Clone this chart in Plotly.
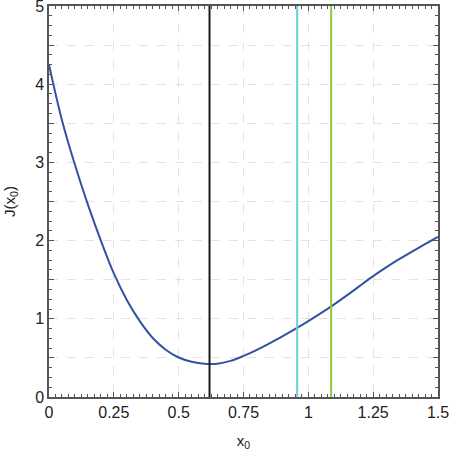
import plotly.graph_objects as go

# J(x0)
x0 = [0.0, 0.05, 0.1, 0.15, 0.2, 0.25, 0.3, 0.35, 0.4, 0.45, 0.5, 0.55, 0.6,
      0.65, 0.7, 0.75, 0.8, 0.85, 0.9, 0.95, 1.0, 1.05, 1.1, 1.15, 1.2, 1.25,
      1.3, 1.35, 1.4, 1.45, 1.5]
J = [4.25, 3.54, 2.97, 2.46, 2.00, 1.58, 1.24, 0.97, 0.755, 0.605, 0.505, 0.45, 0.424,
     0.426, 0.462, 0.525, 0.60, 0.685, 0.775, 0.87, 0.97, 1.075, 1.185, 1.302, 1.425, 1.545,
     1.657, 1.762, 1.86, 1.955, 2.048]

# vertical marker lines
vline_x = [0.619, 0.957, 1.088]
vline_colors = ["#1a1a1a", "#6ccbdc", "#8dc63f"]

xticks = [0, 0.25, 0.5, 0.75, 1, 1.25, 1.5]
xticklabels = ["0", "0.25", "0.5", "0.75", "1", "1.25", "1.5"]
yticks = [0, 0.5, 1, 1.5, 2, 2.5, 3, 3.5, 4, 4.5, 5]
yticklabels = ["0", "", "1", "", "2", "", "3", "", "4", "", "5"]

fig = go.Figure()
fig.add_trace(go.Scatter(x=x0, y=J, mode="lines", line=dict(color="#3352a3", width=2, shape="spline"),
                         showlegend=False))
for vx, c in zip(vline_x, vline_colors):
    fig.add_trace(go.Scatter(x=[vx, vx], y=[0, 5], mode="lines", line=dict(color=c, width=2),
                             showlegend=False))

fnt = "Liberation Sans, Arial"
axis_common = dict(
    showline=True, linecolor="#555555", linewidth=1.5, mirror="allticks",
    ticks="inside", ticklen=5, tickcolor="#555555", tickwidth=1,
    showgrid=True, gridcolor="#e3e3e3", griddash="dash", gridwidth=1,
    zeroline=False, automargin=False, ticklabeloverflow="allow",
    tickfont=dict(family=fnt, size=16, color="#222222"),
)

fig.update_xaxes(range=[0, 1.5], tickvals=xticks, ticktext=xticklabels,
                 minor=dict(dtick=0.025, tick0=0, ticks="inside", ticklen=3, tickcolor="#555555", showgrid=False),
                 title=dict(text="x<sub>0</sub>", font=dict(family=fnt, size=15, color="#222222"),
                            standoff=18),
                 **axis_common)
fig.update_yaxes(range=[0, 5], tickvals=yticks, ticktext=yticklabels,
                 minor=dict(dtick=0.125, tick0=0, ticks="inside", ticklen=3, tickcolor="#555555", showgrid=False),
                 title=dict(text="J(x<sub>0</sub>)", font=dict(family=fnt, size=15, color="#222222"),
                            standoff=16),
                 **axis_common)

fig.update_layout(width=449, height=451, margin=dict(l=49, r=11, t=6, b=54),
                  plot_bgcolor="white", paper_bgcolor="white")

# drop the page's default body margin so the figure sits at the window corner
fig.write_html("out.html", config={"displayModeBar": False},
               post_script="document.body.style.margin='0';")
